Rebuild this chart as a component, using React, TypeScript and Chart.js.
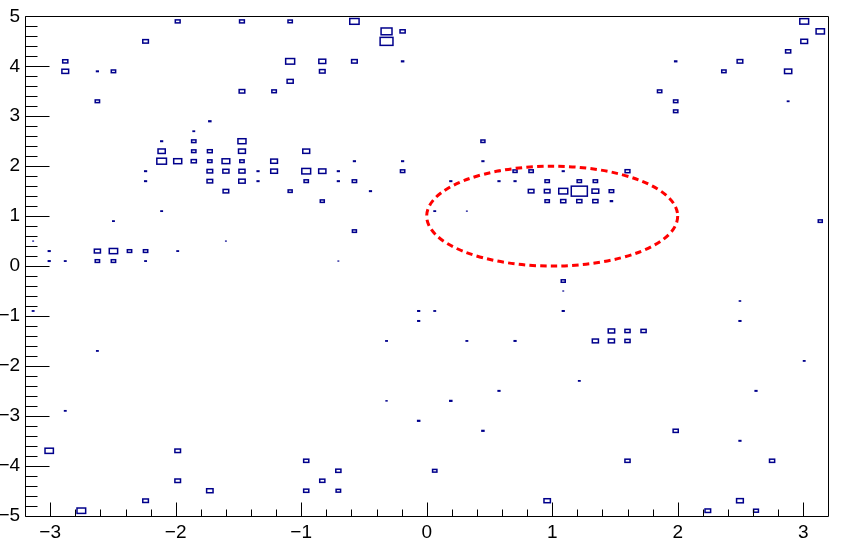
import React, { useEffect, useRef } from 'react';
import { Chart, registerables } from 'chart.js';

Chart.register(...registerables);

// Bin centres (x: 50 bins on [-3.2, 3.2], y: 50 bins on [-5, 5]) and bin contents
const binX = [
  // y = 4.9
  -1.984, -1.472, -1.088, -0.576, 3.008,
  // y = 4.7
  -0.32, -0.192, 3.136,
  // y = 4.5
  -2.24, -0.32, 3.008,
  // y = 4.3
  2.88,
  // y = 4.1
  -2.88, -1.088, -0.832, -0.576, -0.192, 1.984, 2.496,
  // y = 3.9
  -2.88, -2.624, -2.496, -0.832, 2.368, 2.88,
  // y = 3.7
  -1.088,
  // y = 3.5
  -1.472, -1.216, 1.856,
  // y = 3.3
  -2.624, 1.984, 2.88,
  // y = 3.1
  1.984,
  // y = 2.9
  -1.728,
  // y = 2.7
  -1.856,
  // y = 2.5
  -2.112, -1.856, -1.472, 0.448,
  // y = 2.3
  -2.112, -1.856, -1.728, -1.472, -0.96,
  // y = 2.1
  -2.112, -1.984, -1.856, -1.728, -1.6, -1.472, -1.216, -0.576, -0.192, 0.448,
  // y = 1.9
  -2.24, -1.728, -1.6, -1.472, -1.344, -1.216, -0.96, -0.832, -0.704, -0.192, 0.576, 0.704, 0.832, 1.088, 1.6,
  // y = 1.7
  -2.24, -1.728, -1.472, -1.344, -0.96, -0.704, -0.576, 0.192, 0.576, 0.704, 0.96, 1.216, 1.344,
  // y = 1.5
  -1.6, -1.088, -0.448, 0.832, 0.96, 1.088, 1.216, 1.344, 1.472,
  // y = 1.3
  -0.832, 0.96, 1.088, 1.216, 1.344, 1.472,
  // y = 1.1
  -2.112, 0.064, 0.32,
  // y = 0.9
  -2.496, 3.136,
  // y = 0.7
  -0.576,
  // y = 0.5
  -3.136, -1.6,
  // y = 0.3
  -3.008, -2.624, -2.496, -2.368, -2.24, -1.984,
  // y = 0.1
  -3.008, -2.88, -2.624, -2.496, -2.24, -0.704,
  // y = -0.3
  1.088,
  // y = -0.5
  1.088,
  // y = -0.7
  2.496,
  // y = -0.9
  -3.136, -0.064, 0.064, 1.088,
  // y = -1.1
  -0.064, 2.496,
  // y = -1.3
  1.472, 1.6, 1.728,
  // y = -1.5
  -0.32, 0.32, 0.704, 1.344, 1.472, 1.6,
  // y = -1.7
  -2.624,
  // y = -1.9
  3.008,
  // y = -2.3
  1.216,
  // y = -2.5
  0.576, 2.624,
  // y = -2.7
  -0.32, 0.192,
  // y = -2.9
  -2.88,
  // y = -3.1
  -0.064,
  // y = -3.3
  0.448, 1.984,
  // y = -3.5
  2.496,
  // y = -3.7
  -3.008, -1.984,
  // y = -3.9
  -0.96, 1.6, 2.752,
  // y = -4.1
  -0.704, 0.064,
  // y = -4.3
  -1.984, -0.832,
  // y = -4.5
  -1.728, -0.96, -0.704,
  // y = -4.7
  -2.24, 0.96, 2.496,
  // y = -4.9
  -2.752, 2.24, 2.624,
];

const binY = [
  4.9, 4.9, 4.9, 4.9, 4.9,
  4.7, 4.7, 4.7,
  4.5, 4.5, 4.5,
  4.3,
  4.1, 4.1, 4.1, 4.1, 4.1, 4.1, 4.1,
  3.9, 3.9, 3.9, 3.9, 3.9, 3.9,
  3.7,
  3.5, 3.5, 3.5,
  3.3, 3.3, 3.3,
  3.1,
  2.9,
  2.7,
  2.5, 2.5, 2.5, 2.5,
  2.3, 2.3, 2.3, 2.3, 2.3,
  2.1, 2.1, 2.1, 2.1, 2.1, 2.1, 2.1, 2.1, 2.1, 2.1,
  1.9, 1.9, 1.9, 1.9, 1.9, 1.9, 1.9, 1.9, 1.9, 1.9, 1.9, 1.9, 1.9, 1.9, 1.9,
  1.7, 1.7, 1.7, 1.7, 1.7, 1.7, 1.7, 1.7, 1.7, 1.7, 1.7, 1.7, 1.7,
  1.5, 1.5, 1.5, 1.5, 1.5, 1.5, 1.5, 1.5, 1.5,
  1.3, 1.3, 1.3, 1.3, 1.3, 1.3,
  1.1, 1.1, 1.1,
  0.9, 0.9,
  0.7,
  0.5, 0.5,
  0.3, 0.3, 0.3, 0.3, 0.3, 0.3,
  0.1, 0.1, 0.1, 0.1, 0.1, 0.1,
  -0.3,
  -0.5,
  -0.7,
  -0.9, -0.9, -0.9, -0.9,
  -1.1, -1.1,
  -1.3, -1.3, -1.3,
  -1.5, -1.5, -1.5, -1.5, -1.5, -1.5,
  -1.7,
  -1.9,
  -2.3,
  -2.5, -2.5,
  -2.7, -2.7,
  -2.9,
  -3.1,
  -3.3, -3.3,
  -3.5,
  -3.7, -3.7,
  -3.9, -3.9, -3.9,
  -4.1, -4.1,
  -4.3, -4.3,
  -4.5, -4.5, -4.5,
  -4.7, -4.7, -4.7,
  -4.9, -4.9, -4.9,
];

const binContent = [
  3, 3, 2.7, 5.8, 5.5,
  6.8, 3.2, 5.2,
  3.5, 8, 4.2,
  3.2,
  3.2, 5.6, 4.3, 3.5, 2.2, 2.2, 3.5,
  4.2, 2, 2.7, 3.5, 2.7, 4.5,
  3.8,
  3.5, 2.8, 2.7,
  2.7, 2.7, 1.8,
  2.7,
  2.2,
  1.8,
  2, 2.7, 5, 2.5,
  4.5, 2.7, 3, 4.3, 4.3,
  6, 5, 3.2, 2.7, 4.8, 2.7, 4.2, 2, 2, 2,
  2, 3.5, 3.8, 3.8, 2, 4.2, 5.5, 4.5, 2, 2.7, 2, 2.5, 2.7, 2, 3,
  2, 3.5, 4, 2, 2.7, 2, 2.7, 2, 2, 2, 2.7, 2.7, 2.7,
  3.5, 2.5, 2, 3.5, 3.5, 5.6, 10, 4.2, 2.8,
  2.5, 2.7, 3.2, 3.2, 3.2, 2.2,
  1.8, 1.8, 1.2,
  1.8, 2.5,
  2.5,
  1.2, 1.2,
  2, 3.8, 5.2, 2.7, 2.7, 1.8,
  2, 1.8, 2.7, 2.7, 1.8, 1.2,
  2.5,
  1.2,
  1.6,
  1.8, 2, 1.8, 2,
  2, 2,
  4, 3.2, 3.2,
  1.8, 1.8, 2, 3.8, 3.8, 3.2,
  1.8,
  1.8,
  1.8,
  2, 2,
  1.5, 2.2,
  1.8,
  2.2,
  2.2, 3.2,
  2,
  5.2, 3.5,
  3.2, 3.2, 3.2,
  3.2, 2.7,
  3.5, 3.2,
  4, 3.2, 2.8,
  3.5, 4, 4.2,
  5.4, 3.5, 3,
];

const xTicks = [-3, -2, -1, 0, 1, 2, 3];
const yTicks = [-5, -4, -3, -2, -1, 0, 1, 2, 3, 4, 5];
const xLimits = [-3.2, 3.2];
const yLimits = [-5, 5];
const binWidth = 0.128;
const binHeight = 0.2;
const ellipseCentre = [1, 1];
const ellipseRadii = [1, 1];

const fmt = (v: number) => (v < 0 ? '\u2212' + Math.abs(v) : String(v));

const rootPlugin = {
  id: 'rootPainter',
  afterDatasetsDraw(chart: any) {
    const { ctx, chartArea, scales } = chart;
    const xs = scales.x;
    const ys = scales.y;
    const cmax = Math.max(...binContent);
    ctx.save();
    ctx.beginPath();
    ctx.rect(chartArea.left, chartArea.top, chartArea.right - chartArea.left, chartArea.bottom - chartArea.top);
    ctx.clip();
    const pts = chart.data.datasets[0].data;
    ctx.strokeStyle = '#00008c';
    ctx.fillStyle = '#00008c';
    ctx.lineWidth = 1.5;
    pts.forEach((p: any, i: number) => {
      const f = binContent[i] / cmax;
      const x0 = xs.getPixelForValue(p.x - (binWidth * f) / 2);
      const x1 = xs.getPixelForValue(p.x + (binWidth * f) / 2);
      const y0 = ys.getPixelForValue(p.y + (binHeight * f) / 2);
      const y1 = ys.getPixelForValue(p.y - (binHeight * f) / 2);
      const w = x1 - x0;
      const h = y1 - y0;
      if (w < 3.2 || h < 2.2) {
        ctx.fillRect(x0, y0, Math.max(w, 1), Math.max(h, 1));
      } else {
        ctx.strokeRect(x0, y0, w, h);
      }
    });
    // ellipse
    const cx = xs.getPixelForValue(ellipseCentre[0]);
    const cy = ys.getPixelForValue(ellipseCentre[1]);
    const rx = Math.abs(xs.getPixelForValue(ellipseCentre[0] + ellipseRadii[0]) - cx);
    const ry = Math.abs(ys.getPixelForValue(ellipseCentre[1] + ellipseRadii[1]) - cy);
    ctx.beginPath();
    ctx.ellipse(cx, cy, rx, ry, 0, 0, Math.PI * 2);
    ctx.strokeStyle = '#ff0000';
    ctx.lineWidth = 3;
    ctx.setLineDash([6.5, 4.2]);
    ctx.stroke();
    ctx.restore();

    // frame and ticks
    ctx.save();
    ctx.strokeStyle = '#000';
    ctx.lineWidth = 1;
    const L = Math.round(chartArea.left) + 0.5;
    const R = Math.round(chartArea.right) + 0.5;
    const T = Math.round(chartArea.top) + 0.5;
    const B = Math.round(chartArea.bottom) + 0.5;
    ctx.beginPath();
    ctx.rect(L, T, R - L, B - T);
    ctx.stroke();
    ctx.beginPath();
    // x ticks
    for (let i = 0; i < xTicks.length; i++) {
      const v = xTicks[i];
      const px = Math.round(xs.getPixelForValue(v)) + 0.5;
      ctx.moveTo(px, B);
      ctx.lineTo(px, B - 14);
      if (i < xTicks.length - 1) {
        const step = (xTicks[i + 1] - v) / 5;
        for (let k = 1; k < 5; k++) {
          const m = Math.round(xs.getPixelForValue(v + step * k)) + 0.5;
          ctx.moveTo(m, B);
          ctx.lineTo(m, B - 7);
        }
      }
    }
    // y ticks
    for (let i = 0; i < yTicks.length; i++) {
      const v = yTicks[i];
      const py = Math.round(ys.getPixelForValue(v)) + 0.5;
      ctx.moveTo(L, py);
      ctx.lineTo(L + 24, py);
      if (i < yTicks.length - 1) {
        const step = (yTicks[i + 1] - v) / 5;
        for (let k = 1; k < 5; k++) {
          const m = Math.round(ys.getPixelForValue(v + step * k)) + 0.5;
          ctx.moveTo(L, m);
          ctx.lineTo(L + 12, m);
        }
      }
    }
    ctx.stroke();
    ctx.restore();
  },
};

export default function App() {
  const ref = useRef<HTMLCanvasElement>(null);
  useEffect(() => {
    if (!ref.current) return;
    const data = binX.map((x, i) => ({ x, y: binY[i] }));
    const font = { family: '"Liberation Sans", Arial, sans-serif', size: 19 };
    const chart = new Chart(ref.current, {
      type: 'scatter',
      data: {
        datasets: [
          {
            data,
            pointRadius: 0,
            pointHoverRadius: 0,
            showLine: false,
          },
        ],
      },
      options: {
        animation: false,
        responsive: false,
        events: [],
        layout: { padding: { top: 14.7, right: 19.7, left: 0, bottom: 0 } },
        plugins: { legend: { display: false }, tooltip: { enabled: false } },
        scales: {
          x: {
            type: 'linear',
            min: xLimits[0],
            max: xLimits[1],
            grid: { display: false, drawTicks: false },
            border: { display: false },
            afterBuildTicks: (s: any) => {
              s.ticks = xTicks.map((value) => ({ value }));
            },
            afterFit: (s: any) => {
              s.height = 25.3;
            },
            ticks: {
              font,
              color: '#000',
              padding: 6,
              maxRotation: 0,
              autoSkip: false,
              callback: (v: any) => fmt(Number(v)),
            },
          },
          y: {
            type: 'linear',
            min: yLimits[0],
            max: yLimits[1],
            grid: { display: false, drawTicks: false },
            border: { display: false },
            afterBuildTicks: (s: any) => {
              s.ticks = yTicks.map((value) => ({ value }));
            },
            afterFit: (s: any) => {
              s.width = 25.1;
            },
            ticks: {
              font,
              color: '#000',
              padding: 5,
              autoSkip: false,
              callback: (v: any) => fmt(Number(v)),
            },
          },
        },
      },
      plugins: [rootPlugin],
    });
    return () => chart.destroy();
  }, []);
  return (
    <div style={{ position: 'fixed', left: 0, top: 0, width: 848, height: 541, background: '#fff' }}>
      <canvas ref={ref} width={848} height={541} />
    </div>
  );
}
